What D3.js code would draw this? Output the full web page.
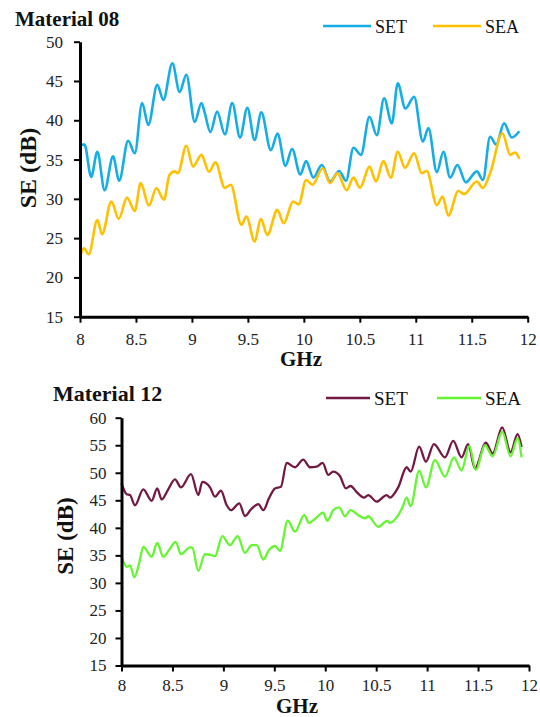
<!DOCTYPE html>
<html>
<head>
<meta charset="utf-8">
<script src="https://cdn.jsdelivr.net/npm/d3@7"></script>
<style>
  html, body { margin: 0; padding: 0; background: #fff; }
  svg { display: block; font-family: "Liberation Serif", "Times New Roman", serif; }
</style>
</head>
<body>
<svg id="chart" width="540" height="717"></svg>
<script>
// Shielding effectiveness vs. frequency, two materials, SET and SEA.
const xTicks = [8, 8.5, 9, 9.5, 10, 10.5, 11, 11.5, 12];
const yTicks08 = [15, 20, 25, 30, 35, 40, 45, 50];
const yTicks12 = [15, 20, 25, 30, 35, 40, 45, 50, 55, 60];
const seriesNames = ["SET", "SEA"];

// Material 08 - SET
const freq08Set = [8.00, 8.04, 8.10, 8.155, 8.22, 8.295, 8.35, 8.43, 8.49, 8.555, 8.61, 8.69, 8.745, 8.825, 8.89, 8.95,
  9.025, 9.085, 9.115, 9.165, 9.225, 9.295, 9.36, 9.43, 9.495, 9.56, 9.62, 9.705, 9.765, 9.835, 9.895, 9.968,
  10.02, 10.085, 10.16, 10.235, 10.315, 10.377, 10.443, 10.51, 10.586, 10.652, 10.717, 10.786, 10.839, 10.907, 10.985,
  11.063, 11.113, 11.188, 11.247, 11.307, 11.372, 11.447, 11.545, 11.60, 11.664, 11.718, 11.789, 11.858, 11.925];
const se08Set = [36.9, 36.9, 32.8, 36.0, 31.1, 35.4, 32.3, 37.4, 35.8, 42.2, 39.4, 44.5, 42.6, 47.25, 43.6, 45.8,
  39.8, 42.2, 40.9, 38.5, 41.1, 38.2, 42.2, 37.8, 41.6, 37.5, 41.0, 36.2, 38.3, 34.2, 36.35, 33.1,
  34.8, 32.7, 34.3, 32.2, 33.55, 32.3, 36.5, 35.6, 40.45, 38.1, 42.8, 39.6, 44.7, 41.5, 43.0,
  37.3, 39.0, 33.4, 36.0, 32.7, 34.3, 32.1, 33.5, 32.4, 37.9, 36.9, 39.6, 37.8, 38.6];

// Material 08 - SEA
const freq08Sea = [8.00, 8.036, 8.078, 8.155, 8.197, 8.28, 8.346, 8.42, 8.489, 8.542, 8.616, 8.682, 8.75, 8.80, 8.845, 8.874,
  8.95, 9.01, 9.084, 9.153, 9.21, 9.293, 9.347, 9.442, 9.486, 9.561, 9.615, 9.674, 9.763, 9.82, 9.904, 9.954,
  10.02, 10.078, 10.168, 10.234, 10.299, 10.383, 10.443, 10.502, 10.586, 10.645, 10.71, 10.777, 10.839, 10.904, 10.985,
  11.053, 11.098, 11.188, 11.24, 11.29, 11.38, 11.432, 11.545, 11.599, 11.664, 11.774, 11.843, 11.887, 11.926];
const se08Sea = [22.65, 23.7, 22.95, 27.3, 25.5, 29.65, 27.45, 30.15, 28.45, 32.0, 29.15, 31.35, 29.9, 33.05, 33.5, 33.25,
  36.75, 34.1, 35.6, 33.45, 34.65, 31.4, 31.8, 26.7, 27.75, 24.55, 27.45, 25.4, 28.6, 26.9, 29.65, 29.3,
  32.4, 31.8, 33.9, 32.0, 33.25, 31.1, 32.7, 31.4, 34.1, 32.2, 34.8, 32.7, 36.0, 33.95, 35.8,
  33.25, 33.55, 29.2, 30.3, 27.85, 31.0, 30.6, 32.2, 31.4, 33.25, 38.35, 35.6, 35.9, 35.1];

// Material 12 - SET
const freq12Set = [8.00, 8.05, 8.083, 8.132, 8.214, 8.296, 8.351, 8.394, 8.459, 8.525, 8.584, 8.682, 8.754, 8.793, 8.869, 8.918,
  8.976, 9.032, 9.075, 9.156, 9.212, 9.278, 9.343, 9.392, 9.447, 9.506, 9.565, 9.621, 9.703, 9.784, 9.85, 9.915,
  9.974, 10.03, 10.078, 10.144, 10.203, 10.249, 10.308, 10.38, 10.422, 10.504, 10.603, 10.635, 10.716, 10.799, 10.838,
  10.922, 10.988, 11.067, 11.175, 11.256, 11.338, 11.403, 11.469, 11.577, 11.643, 11.737, 11.819, 11.888, 11.927];
const se12Set = [48.1, 46.1, 45.95, 44.1, 47.0, 44.9, 47.15, 45.15, 47.0, 48.8, 47.35, 49.75, 45.95, 48.35, 47.35, 45.65,
  46.75, 44.15, 43.2, 44.45, 42.15, 43.5, 44.3, 43.2, 45.35, 47.15, 47.45, 51.8, 51.0, 52.4, 51.0, 51.1,
  51.8, 49.6, 50.2, 49.4, 47.15, 47.6, 46.5, 45.5, 45.95, 44.75, 45.95, 45.5, 47.35, 51.0, 50.2,
  54.75, 52.0, 55.2, 52.8, 55.8, 52.8, 55.2, 50.8, 55.45, 53.5, 58.25, 53.7, 57.0, 54.7];

// Material 12 - SEA
const freq12Sea = [8.00, 8.051, 8.083, 8.126, 8.172, 8.214, 8.296, 8.351, 8.41, 8.466, 8.532, 8.584, 8.672, 8.695, 8.754, 8.819,
  8.885, 8.918, 8.989, 9.065, 9.14, 9.212, 9.278, 9.327, 9.392, 9.447, 9.506, 9.555, 9.631, 9.703, 9.794, 9.84,
  9.892, 9.98, 10.02, 10.079, 10.137, 10.193, 10.249, 10.324, 10.39, 10.422, 10.52, 10.608, 10.635, 10.716, 10.76,
  10.799, 10.838, 10.922, 10.988, 11.077, 11.175, 11.263, 11.338, 11.413, 11.479, 11.567, 11.643, 11.737, 11.819, 11.888, 11.927];
const se12Sea = [34.75, 32.9, 33.2, 31.0, 33.5, 36.55, 34.75, 37.25, 34.75, 35.95, 37.45, 35.2, 36.45, 36.4, 32.2, 35.2,
  35.05, 34.85, 38.5, 36.85, 38.5, 35.45, 36.85, 36.85, 34.25, 35.95, 36.7, 35.8, 41.3, 39.3, 42.3, 40.9,
  41.5, 42.75, 41.25, 43.2, 43.7, 42.1, 43.2, 42.3, 41.7, 42.1, 40.2, 41.25, 40.9, 42.3, 43.8,
  45.5, 43.95, 50.4, 47.35, 52.3, 49.3, 52.8, 50.4, 54.85, 50.5, 55.0, 53.0, 57.45, 53.0, 56.25, 52.8];

const svg = d3.select("#chart");
const serif = "'Liberation Serif', 'Times New Roman', serif";
const fmt = d => String(d);

function zip(fs, vs) { return fs.map((f, i) => ({ f, v: vs[i] })); }

function panel(opt) {
  const g = svg.append("g");
  const x = d3.scaleLinear().domain([8, 12]).range(opt.xRange);
  const y = d3.scaleLinear().domain(opt.yDomain).range(opt.yRange);

  const line = d3.line().x(d => x(d.f)).y(d => y(d.v)).curve(d3.curveMonotoneX);

  opt.series.forEach(s => {
    g.append("path")
      .datum(zip(s.freq, s.vals))
      .attr("fill", "none")
      .attr("stroke", s.color)
      .attr("stroke-width", opt.lineWidth)
      .attr("stroke-linejoin", "round")
      .attr("d", line);
  });

  const xAxis = g.append("g")
    .attr("transform", `translate(0,${opt.yRange[0]})`)
    .call(d3.axisBottom(x).tickValues(xTicks).tickFormat(fmt).tickSize(6).tickSizeOuter(0).tickPadding(opt.xPad));
  const yAxis = g.append("g")
    .attr("transform", `translate(${opt.xRange[0]},0)`)
    .call(d3.axisLeft(y).tickValues(opt.yTicks).tickFormat(fmt).tickSize(6).tickSizeOuter(0).tickPadding(opt.yPad));

  [xAxis, yAxis].forEach(a => {
    a.attr("font-family", serif).attr("font-size", 17);
    a.select(".domain").attr("stroke", "#000").attr("stroke-width", 3);
    a.selectAll(".tick line").attr("stroke", "#000").attr("stroke-width", 2);
    a.selectAll(".tick text").attr("fill", "#222");
  });

  // panel title
  g.append("text")
    .attr("x", opt.title.x).attr("y", opt.title.y)
    .style("font-size", opt.title.size + "px").style("font-weight", "bold")
    .attr("fill", "#111")
    .text(opt.title.text);

  // axis titles
  g.append("text")
    .attr("x", opt.xTitle.x).attr("y", opt.xTitle.y)
    .attr("text-anchor", "middle")
    .style("font-size", "21px").style("font-weight", "bold").attr("fill", "#111")
    .text("GHz");
  g.append("text")
    .attr("transform", `translate(${opt.yTitle.x},${opt.yTitle.y}) rotate(-90)`)
    .attr("text-anchor", "middle")
    .style("font-size", opt.yTitle.size + "px").style("font-weight", "bold").attr("fill", "#111")
    .text("SE (dB)");

  // legend
  opt.series.forEach((s, i) => {
    const lx = opt.legend.x[i];
    g.append("line")
      .attr("x1", lx).attr("x2", lx + opt.legend.len)
      .attr("y1", opt.legend.y).attr("y2", opt.legend.y)
      .attr("stroke", s.color).attr("stroke-width", opt.lineWidth);
    g.append("text")
      .attr("x", lx + opt.legend.len + 4).attr("y", opt.legend.y + opt.legend.dy)
      .style("font-size", opt.legend.size + "px").attr("fill", "#111")
      .text(seriesNames[i]);
  });
}

panel({
  xRange: [80, 527.7], yDomain: [15, 50], yRange: [316.7, 41.7], yTicks: yTicks08,
  xPad: 10, yPad: 11, lineWidth: 2.6,
  series: [
    { freq: freq08Set, vals: se08Set, color: "#16ADE6" },
    { freq: freq08Sea, vals: se08Sea, color: "#FFC000" }
  ],
  title: { text: "Material 08", x: 15, y: 26, size: 21 },
  xTitle: { x: 301, y: 366 },
  yTitle: { x: 36, y: 168, size: 24 },
  legend: { x: [323, 433], y: 26, len: 48, dy: 6.5, size: 18 }
});

panel({
  xRange: [121.5, 529], yDomain: [15, 60], yRange: [665.5, 417.7], yTicks: yTicks12,
  xPad: 7, yPad: 9, lineWidth: 2.3,
  series: [
    { freq: freq12Set, vals: se12Set, color: "#721A45" },
    { freq: freq12Sea, vals: se12Sea, color: "#66F532" }
  ],
  title: { text: "Material 12", x: 53, y: 401, size: 22 },
  xTitle: { x: 297, y: 713 },
  yTitle: { x: 73, y: 536, size: 23 },
  legend: { x: [326, 437], y: 398, len: 44, dy: 7, size: 19 }
});
</script>
</body>
</html>
